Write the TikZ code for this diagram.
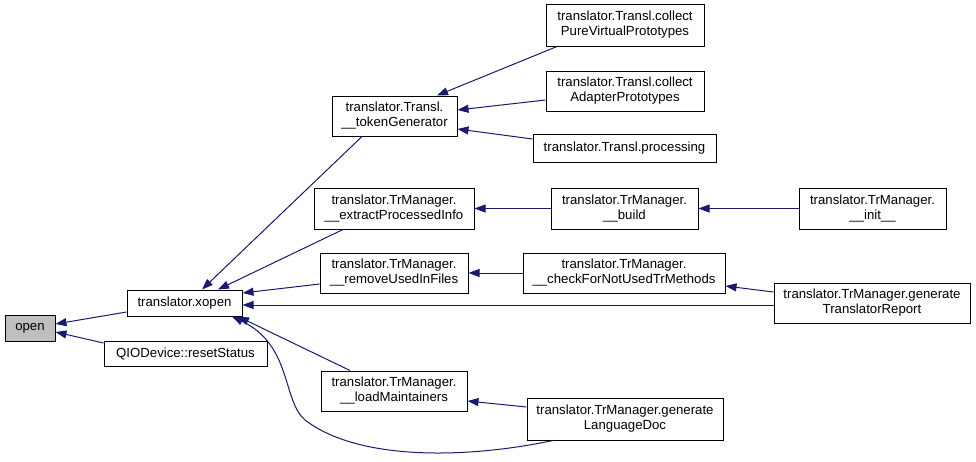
\documentclass[tikz,border=0pt]{standalone}
\usepackage{fontspec}
\setmainfont{Liberation Sans}
\usepackage{tikz}
\usetikzlibrary{arrows.meta, calc}
\definecolor{edgeblue}{RGB}{25,25,112}
\definecolor{focusgray}{RGB}{191,191,191}

\begin{document}
\begin{tikzpicture}[
	x=1pt, y=-1pt,
	func/.style={rectangle, draw=black, line width=1pt, fill=white, inner sep=1pt, align=center, font=\fontsize{13.2}{15}\selectfont},
	call/.style={-{Triangle[length=11pt, width=8pt]}, line width=1pt, draw=edgeblue}
]
\useasboundingbox (0,0) rectangle (976,461);

% Functions
\node[func, fill=focusgray, minimum width=50, minimum height=26] (open) at (30,328) {open};
\node[func, minimum width=115, minimum height=26] (xopen) at (184.5,303) {translator.xopen};
\node[func, minimum width=163, minimum height=25] (reset) at (185.5,353.5) {QIODevice::resetStatus};
\node[func, minimum width=125, minimum height=40] (tok) at (394.5,116) {translator.Transl.\\\_\_tokenGenerator};
\node[func, minimum width=158, minimum height=42] (pure) at (625,25) {translator.Transl.collect\\PureVirtualPrototypes};
\node[func, minimum width=158, minimum height=40] (adapter) at (625,91) {translator.Transl.collect\\AdapterPrototypes};
\node[func, minimum width=183, minimum height=28] (proc) at (624.5,148.5) {translator.Transl.processing};
\node[func, minimum width=160, minimum height=41] (extract) at (394,208.5) {translator.TrManager.\\\_\_extractProcessedInfo};
\node[func, minimum width=147, minimum height=41] (build) at (624.5,208.5) {translator.TrManager.\\\_\_build};
\node[func, minimum width=147, minimum height=41] (init) at (872.5,208.5) {translator.TrManager.\\\_\_init\_\_};
\node[func, minimum width=148, minimum height=40] (remove) at (394,273) {translator.TrManager.\\\_\_removeUsedInFiles};
\node[func, minimum width=202, minimum height=40] (check) at (624,273) {translator.TrManager.\\\_\_checkForNotUsedTrMethods};
\node[func, minimum width=196, minimum height=40] (report) at (872,303) {translator.TrManager.generate\\TranslatorReport};
\node[func, minimum width=146, minimum height=40] (loadm) at (394,391) {translator.TrManager.\\\_\_loadMaintainers};
\node[func, minimum width=196, minimum height=42] (lang) at (625,419) {translator.TrManager.generate\\LanguageDoc};

% Calls into open
\draw[call] ($(xopen.west)+(0,9)$) -- ($(open.east)+(0,-4)$);
\draw[call] ($(reset.west)+(0,-10.5)$) -- ($(open.east)+(0,4)$);

% Calls into translator.xopen
\draw[call] ($(tok.south)+(-32.5,0)$) -- ($(xopen.north)+(17.5,0)$);
\draw[call] ($(extract.south)+(-51,0)$) -- ($(xopen.north)+(33.5,0)$);
\draw[call] ($(remove.west)+(0,11)$) -- ($(xopen.east)+(0,-10)$);
\draw[call] ($(report.west)+(0,2)$) -- ($(xopen.east)+(0,2)$);
\draw[call] ($(loadm.north)+(-44,0)$) -- ($(xopen.south)+(53.5,0)$);
\draw[call] ($(lang.south)+(-72,0)$) .. controls (470,458) and (360,462) .. (305,420)
	.. controls (282,400) and (292,345) .. ($(xopen.south)+(47.5,0)$);

% Calls into __tokenGenerator
\draw[call] ($(pure.south)+(-68,0)$) -- ($(tok.north)+(42.5,0)$);
\draw[call] ($(adapter.west)+(0,9)$) -- ($(tok.east)+(0,-6)$);
\draw[call] ($(proc.west)+(0,-9.5)$) -- ($(tok.east)+(0,13)$);

% TrManager chains
\draw[call] (build) -- (extract);
\draw[call] (init) -- (build);
\draw[call] (check) -- (remove);
\draw[call] ($(report.west)+(0,-11)$) -- ($(check.east)+(0,13)$);
\draw[call] ($(lang.west)+(0,-12)$) -- ($(loadm.east)+(0,10)$);

\end{tikzpicture}
\end{document}
